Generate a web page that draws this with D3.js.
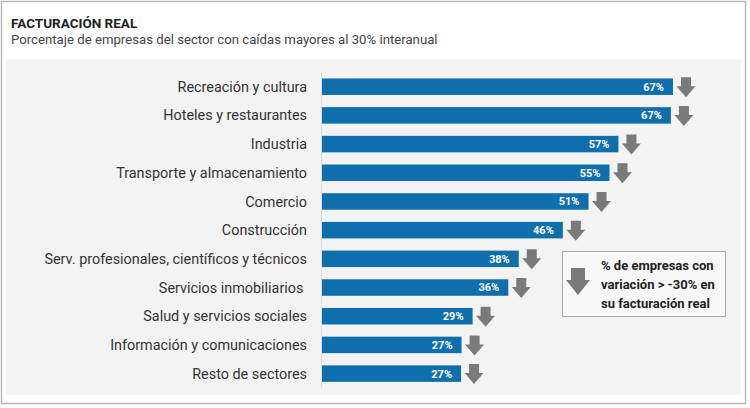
<!DOCTYPE html>
<html><head><meta charset="utf-8">
<script src="https://cdn.jsdelivr.net/npm/d3@7"></script>
<style>
html,body{margin:0;padding:0;background:#fff;}
svg{display:block;font-family:Roboto,"Noto Sans",sans-serif;}
</style></head>
<body>
<svg id="chart" width="750" height="408"></svg>
<script>
const title = "FACTURACIÓN REAL";
const subtitle = "Porcentaje de empresas del sector con caídas mayores al 30% interanual";
const categories = [
  "Recreación y cultura",
  "Hoteles y restaurantes",
  "Industria",
  "Transporte y almacenamiento",
  "Comercio",
  "Construcción",
  "Serv. profesionales, científicos y técnicos",
  "Servicios inmobiliarios ",
  "Salud y servicios sociales",
  "Información y comunicaciones",
  "Resto de sectores"
];
const values = [67.0, 66.6, 56.6, 54.9, 50.9, 46.0, 37.6, 35.6, 28.8, 26.7, 26.6];
const legendLines = ["% de empresas con", "variación > -30% en", "su facturación real"];

const svg = d3.select("#chart");

// outer frame and panel
svg.append("rect").attr("x",1.5).attr("y",1.5).attr("width",744).attr("height",402)
  .attr("fill","#fff").attr("stroke","#b9b9b9").attr("stroke-width",1.5);
svg.append("rect").attr("x",6).attr("y",59.5).attr("width",735).attr("height",335)
  .attr("fill","#f3f3f3");

svg.append("text").attr("x",11).attr("y",27.5).text(title)
  .attr("font-size",13.5).attr("font-weight",700).attr("fill","#1e1e1e");
svg.append("text").attr("x",11).attr("y",44).text(subtitle)
  .attr("font-size",13.2).attr("fill","#444");

const x0 = 321.5;
const x = d3.scaleLinear().domain([0, 100]).range([x0, x0 + 524.6]);
const y = d3.scalePoint().domain(categories).range([86.7, 373.6]);
const barH = 16.5;

// axis line
svg.append("line").attr("x1",x0).attr("x2",x0).attr("y1",72).attr("y2",388)
  .attr("stroke","#dcdcdc").attr("stroke-width",1);

// category labels via axis
const yAxis = d3.axisLeft(y).tickSize(0).tickPadding(0);
const ag = svg.append("g").attr("transform",`translate(307,0)`).call(yAxis);
ag.select(".domain").remove();
ag.selectAll("text").attr("font-size",14.4).attr("fill","#333")
  .attr("font-family","Roboto, sans-serif").style("white-space","pre");

const data = categories.map((c,i)=>({c, v: values[i]}));

svg.append("g").selectAll("rect").data(data).join("rect")
  .attr("x", x0 + 0.5).attr("y", d => y(d.c) - barH/2)
  .attr("width", d => x(d.v) - x0 - 0.5).attr("height", barH)
  .attr("fill", "#0e6fac");

svg.append("g").selectAll("text").data(data).join("text")
  .attr("x", d => x(d.v) - 9).attr("y", d => y(d.c)).attr("dy","0.36em")
  .attr("text-anchor","end").attr("font-size",11).attr("font-weight",700)
  .attr("fill","#fff").text(d => Math.round(d.v) + "%");

function arrowPath(cx, top, headY, tip, shaftW, headW){
  return `M${cx-shaftW/2},${top}L${cx+shaftW/2},${top}L${cx+shaftW/2},${headY}L${cx+headW/2},${headY}L${cx},${tip}L${cx-headW/2},${headY}L${cx-shaftW/2},${headY}Z`;
}

svg.append("g").selectAll("path").data(data).join("path")
  .attr("d", d => { const e = x(d.v), cy = y(d.c);
    return arrowPath(e + 13, cy - 9.5, cy - 0.5, cy + 10.5, 10, 19); })
  .attr("fill", "#7a7a7a");

// legend
const lg = svg.append("g");
lg.append("rect").attr("x",562.5).attr("y",251.5).attr("width",163).attr("height",65)
  .attr("fill","#f8f8f8").attr("stroke","#a8a8a8").attr("stroke-width",1);
lg.append("path").attr("d", arrowPath(578, 268, 280, 295, 14, 24)).attr("fill","#7a7a7a");
lg.selectAll("text").data(legendLines).join("text")
  .attr("x",601).attr("y",(d,i)=>270 + i*19).text(d=>d)
  .attr("font-size",13).attr("font-weight",700).attr("fill","#222");
</script>
</body></html>
